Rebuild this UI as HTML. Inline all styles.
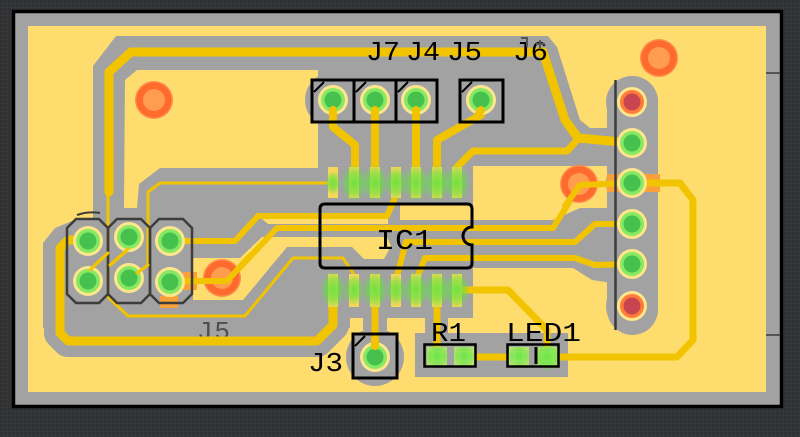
<!DOCTYPE html>
<html><head><meta charset="utf-8">
<style>html,body{margin:0;padding:0;background:#303133;width:800px;height:437px;overflow:hidden}svg{display:block}</style>
</head><body>
<svg width="800" height="437" viewBox="0 0 800 437" xmlns="http://www.w3.org/2000/svg" font-family="'Liberation Mono', 'DejaVu Sans Mono', monospace">
<defs>
<radialGradient id="gl" cx="50%" cy="50%" r="50%">
<stop offset="0" stop-color="#5fe33d" stop-opacity="0.9"/>
<stop offset="0.6" stop-color="#5fe33d" stop-opacity="0.55"/>
<stop offset="1" stop-color="#5fe33d" stop-opacity="0"/>
</radialGradient>
<pattern id="grid" width="4" height="4" patternUnits="userSpaceOnUse"><path d="M4 0V4H0" fill="none" stroke="#393a3c" stroke-width="1"/></pattern>
<g id="gp"><circle r="15" fill="#fde68c"/><circle r="12" fill="#86e863"/><circle r="8.5" fill="#47c14e"/></g>
<g id="rp"><circle r="15" fill="#fde68c"/><circle r="12" fill="#ff7b3a"/><circle r="8.5" fill="#c7454f"/></g>
<g id="via"><circle r="19" fill="#ff8a4c"/><circle r="17.5" fill="#ff6b2d"/><circle r="11" fill="#ff9c50"/></g>
</defs>

<rect width="800" height="437" fill="#303133"/>
<rect width="800" height="437" fill="url(#grid)"/>

<rect x="13.5" y="11.5" width="768" height="395" fill="#a2a2a2" stroke="#000" stroke-width="3.5"/>
<rect x="28" y="26" width="738" height="366" fill="#fedd6e"/>
<line x1="766" y1="73" x2="780" y2="73" stroke="#555" stroke-width="2"/>
<line x1="766" y1="335" x2="780" y2="335" stroke="#555" stroke-width="2"/>

<g fill="#a2a2a2">
<polygon points="93,66 116,36 548,36 557,47 580,120 590,128 612,128 612,166 473,166 473,205 400,205 400,220 553,220 580,208 612,208 612,283 592,280 573,268 473,268 473,318 448,318 448,333 568,333 568,377 415,377 415,333 425,333 425,318 387,318 387,330 363,330 363,318 350,318 350,328 43,328 43,243 55,228 72,221 93,218"/>
<circle cx="375" cy="357" r="29"/>
<rect x="607" y="76" width="51" height="259" rx="25.5"/>
<circle cx="632" cy="102" r="26"/><circle cx="632" cy="143" r="26"/><circle cx="632" cy="183" r="26"/>
<circle cx="632" cy="224" r="26"/><circle cx="632" cy="264" r="26"/><circle cx="632" cy="306" r="26"/>
</g>
<path d="M68,240 L60,248 L60,333 L68,341 L317,341 L333,325 L333,305" fill="none" stroke="#a2a2a2" stroke-width="32" stroke-linejoin="round" stroke-linecap="round"/>

<g fill="#fedd6e">
<polygon points="125,80 137,70 318,70 318,168 160,168 139,184 137,208 124,208"/>
<polygon points="193,258 240,258 262,237 387,237 391,246 384,259 364,259 352,247 287,247 243,300 193,300"/>
<polygon points="262,219 388,219 388,224 268,224"/>
</g>
<circle cx="333" cy="100" r="28" fill="#a2a2a2"/>

<rect x="607" y="174" width="53" height="18" fill="#f9a03a"/>
<rect x="160" y="296" width="18" height="12" fill="#f9a03a"/>
<rect x="183" y="272" width="14" height="18" fill="#f9a03a"/>

<text x="197" y="339" font-size="26" textLength="33" fill="#4e4e4e">J5</text>

<g fill="none" stroke="#f2c400" stroke-linecap="round" stroke-linejoin="round">
<path d="M109,192 L109,72 L131,52 L543,52 L565,120 L578,138 L632,143" stroke-width="9"/>
<path d="M578,139 L567,151 L473,151 L456,168 L456,180" stroke-width="7"/>
<path d="M89,240 L68,240 L60,248 L60,333 L68,341 L317,341 L333,325 L333,300" stroke-width="9"/>
<path d="M170,241 L235,241 L258,216 L387,216 L396,196" stroke-width="6"/>
<path d="M170,281 L227,281 L277,228 L553,228 L580,185 L632,183" stroke-width="6"/>
<path d="M396,280 L406,242 L575,242 L595,224 L632,224" stroke-width="6"/>
<path d="M416,280 L425,258 L575,258 L595,265 L632,264" stroke-width="6"/>
<path d="M333,100 L333,127 L355,145 L355,175" stroke-width="8"/>
<path d="M375,100 L375,175" stroke-width="8"/>
<path d="M416,100 L416,175" stroke-width="8"/>
<path d="M481,100 L481,115 L437,140 L437,175" stroke-width="8"/>
<path d="M375,300 L375,357" stroke-width="7"/>
<path d="M437,300 L437,357" stroke-width="7"/>
<path d="M457,290 L508,290 L547,330 L547,357" stroke-width="7"/>
<path d="M463,357 L520,357" stroke-width="7"/>
<path d="M547,357 L677,357 L693,340 L693,200 L680,183 L632,183" stroke-width="7"/>
</g>
<g fill="none" stroke="#f2c400" stroke-width="3" stroke-linecap="round" stroke-linejoin="round">
<path d="M108,190 L108,297 L128,316 L245,316 L293,258 L343,258 L353,273"/>
<path d="M87,272 L108,253"/>
<path d="M108,267 L130,248"/>
<path d="M137,273 L148,265 L148,192 L160,183 L334,183"/>
</g>

<g fill="#f9d65a">
<rect x="328" y="167" width="10" height="31"/><rect x="349" y="167" width="10" height="31"/>
<rect x="370" y="167" width="10" height="31"/><rect x="391" y="167" width="10" height="31"/>
<rect x="411" y="167" width="10" height="31"/><rect x="432" y="167" width="10" height="31"/>
<rect x="452" y="167" width="10" height="31"/>
<rect x="328" y="274" width="10" height="33"/><rect x="349" y="274" width="10" height="33"/>
<rect x="370" y="274" width="10" height="33"/><rect x="391" y="274" width="10" height="33"/>
<rect x="411" y="274" width="10" height="33"/><rect x="432" y="274" width="10" height="33"/>
<rect x="452" y="274" width="10" height="33"/>
</g>
<g fill="url(#gl)">
<ellipse cx="333" cy="183" rx="8" ry="12"/><ellipse cx="354" cy="183" rx="13" ry="19"/>
<ellipse cx="375" cy="183" rx="13" ry="19"/><ellipse cx="396" cy="183" rx="11" ry="17"/>
<ellipse cx="416" cy="183" rx="13" ry="19"/><ellipse cx="437" cy="183" rx="13" ry="19"/>
<ellipse cx="457" cy="183" rx="13" ry="19"/>
<ellipse cx="333" cy="290" rx="13" ry="19"/><ellipse cx="354" cy="290" rx="10" ry="16"/>
<ellipse cx="375" cy="290" rx="13" ry="19"/><ellipse cx="396" cy="290" rx="10" ry="16"/>
<ellipse cx="416" cy="290" rx="13" ry="19"/><ellipse cx="437" cy="290" rx="13" ry="19"/>
<ellipse cx="457" cy="290" rx="13" ry="19"/>
</g>

<use href="#via" x="154" y="100"/>
<use href="#via" x="659" y="58"/>
<use href="#via" x="579" y="184"/>
<use href="#via" x="222" y="278"/>
<g fill="none" stroke="#f2c400" stroke-linecap="round" stroke-linejoin="round" stroke-width="6">
<path d="M200,281 L227,281 L250,256"/>
<path d="M565,206 L580,185 L632,183"/>
</g>

<line x1="615.5" y1="80" x2="615.5" y2="330" stroke="#3b3b3b" stroke-width="2.5"/>
<use href="#rp" x="632" y="102"/>
<use href="#gp" x="632" y="143"/>
<use href="#gp" x="632" y="183"/>
<use href="#gp" x="632" y="224"/>
<use href="#gp" x="632" y="264"/>
<use href="#rp" x="632" y="306"/>

<use href="#gp" x="88" y="241"/>
<use href="#gp" x="88" y="281"/>
<use href="#gp" x="129" y="237"/>
<use href="#gp" x="129" y="278"/>
<use href="#gp" x="170" y="241"/>
<use href="#gp" x="170" y="282"/>
<g fill="none" stroke="#3d3d3d" stroke-width="2.5">
<path d="M76,219 H99 L108,228 V294 L99,303 H76 L67,294 V228 Z"/>
<path d="M117,219 H141 L150,228 V294 L141,303 H117 L108,294 V228 Z"/>
<path d="M159,219 H183 L192,228 V294 L183,303 H159 L150,294 V228 Z"/>
</g>
<path d="M77,215 Q88,211 100,213" fill="none" stroke="#3d3d3d" stroke-width="2"/>

<g fill="none" stroke="#f2c400" stroke-width="3" stroke-linecap="round">
<path d="M90,270 L108,253"/>
<path d="M110,265 L128,249"/>
<path d="M137,273 L148,265"/>
</g>

<use href="#gp" x="333" y="100"/>
<use href="#gp" x="375" y="100"/>
<use href="#gp" x="416" y="100"/>
<use href="#gp" x="481" y="100"/>
<use href="#gp" x="375" y="357"/>
<g fill="none" stroke="#f2c400" stroke-width="8" stroke-linecap="round">
<path d="M333,110 L333,118"/><path d="M375,110 L375,118"/><path d="M416,110 L416,118"/><path d="M481,110 L478,116"/>
<path d="M375,340 L375,346"/>
</g>

<g>
<rect x="427" y="347" width="20" height="19" fill="#b3e36f"/><rect x="431" y="351" width="12" height="11" fill="#cfee86"/>
<rect x="454" y="347" width="20" height="19" fill="#b3e36f"/><rect x="458" y="351" width="12" height="11" fill="#cfee86"/>
<rect x="509" y="347" width="20" height="19" fill="#b3e36f"/><rect x="513" y="351" width="12" height="11" fill="#cfee86"/>
<rect x="537" y="347" width="21" height="19" fill="#b3e36f"/><rect x="541" y="351" width="13" height="11" fill="#cfee86"/>
</g>
<g fill="url(#gl)">
<ellipse cx="437" cy="356" rx="12" ry="12"/><ellipse cx="464" cy="356" rx="11" ry="11"/>
<ellipse cx="519" cy="356" rx="11" ry="11"/><ellipse cx="547" cy="357" rx="14" ry="14"/>
</g>

<g fill="none" stroke="#000" stroke-width="3">
<path d="M325,204 H467 Q472,204 472,209 V227 A9,9 0 0 0 472,245 V263 Q472,268 467,268 H325 Q320,268 320,263 V209 Q320,204 325,204 Z"/>
<rect x="312" y="80" width="42" height="42"/>
<rect x="354" y="80" width="42" height="42"/>
<rect x="396" y="80" width="41" height="42"/>
<rect x="460" y="80" width="43" height="42"/>
<rect x="353" y="334" width="44" height="44"/>
</g>
<g fill="none" stroke="#000" stroke-width="2">
<line x1="314" y1="92" x2="324" y2="82"/>
<line x1="356" y1="92" x2="366" y2="82"/>
<line x1="398" y1="92" x2="408" y2="82"/>
<line x1="462" y1="92" x2="472" y2="82"/>
<line x1="355" y1="346" x2="365" y2="336"/>
<rect x="424.5" y="344.5" width="51" height="22" stroke-width="2.5"/>
<rect x="507.5" y="344.5" width="51" height="22" stroke-width="2.5"/>
<line x1="536" y1="347" x2="536" y2="364" stroke-width="3"/>
</g>

<g fill="#000" font-size="27">
<text x="366" y="60" textLength="34" lengthAdjust="spacingAndGlyphs">J7</text>
<text x="406" y="60" textLength="34" lengthAdjust="spacingAndGlyphs">J4</text>
<text x="447" y="60" textLength="35" lengthAdjust="spacingAndGlyphs">J5</text>
<text x="513" y="60" textLength="35" lengthAdjust="spacingAndGlyphs">J6</text>
<text x="308" y="371" textLength="35" lengthAdjust="spacingAndGlyphs">J3</text>
<text x="431" y="341" textLength="35" lengthAdjust="spacingAndGlyphs">R1</text>
<text x="506" y="341" textLength="75" lengthAdjust="spacingAndGlyphs">LED1</text>
<text x="376" y="249" font-size="29" textLength="57" lengthAdjust="spacingAndGlyphs">IC1</text>
</g>
<g fill="none" stroke="#555" stroke-width="2">
<path d="M521,38 H527 V47"/>
<path d="M540,40 V48 M536,44 H545"/>
</g>
</svg>
</body></html>
